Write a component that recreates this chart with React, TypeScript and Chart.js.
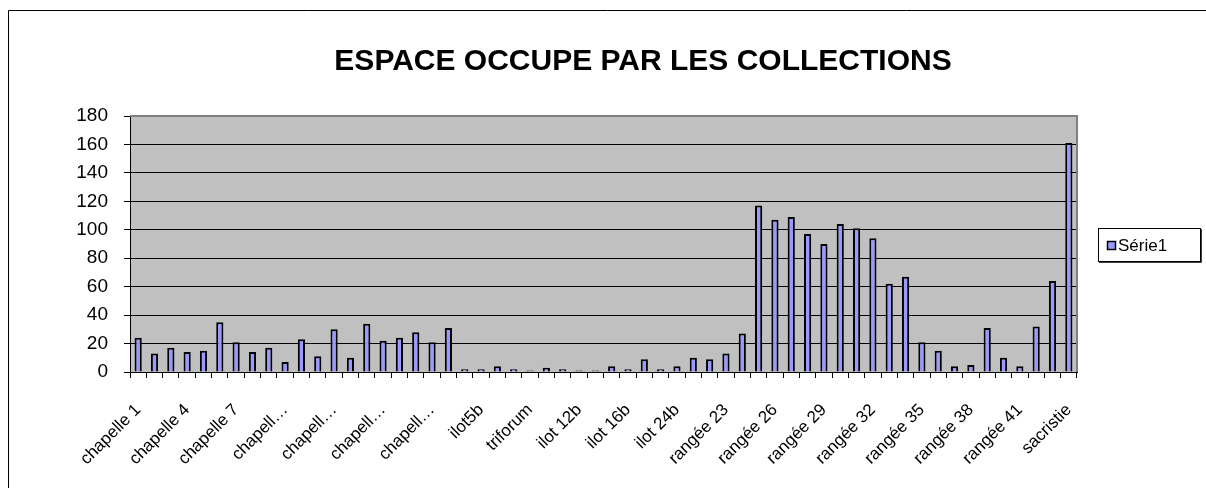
import React, { useEffect, useRef } from "react";
import { Chart, registerables } from "chart.js";

Chart.register(...registerables);

const TITLE = "ESPACE OCCUPE PAR LES COLLECTIONS";
const SERIES_NAME = "Série1";

const chapelles = [
  "chapelle 1", "chapelle 2", "chapelle 3", "chapelle 4", "chapelle 5",
  "chapelle 6", "chapelle 7", "chapelle 8", "chapelle 9", "chapelle 10",
  "chapelle 11", "chapelle 12", "chapelle 13", "chapelle 14", "chapelle 15",
  "chapelle 16", "chapelle 17", "chapelle 18", "chapelle 19", "chapelle 20",
];
const ilots = [
  "ilot5", "ilot5b", "ilot6", "ilot7", "triforum", "ilot 11", "ilot 12",
  "ilot 12b", "ilot 13", "ilot 16", "ilot 16b", "ilot 18", "ilot 24", "ilot 24b",
];
const rangees = [
  "rangée 21", "rangée 22", "rangée 23", "rangée 24", "rangée 25", "rangée 26",
  "rangée 27", "rangée 28", "rangée 29", "rangée 30", "rangée 31", "rangée 32",
  "rangée 33", "rangée 34", "rangée 35", "rangée 36", "rangée 37", "rangée 38",
  "rangée 39", "rangée 40", "rangée 41", "rangée 42", "rangée 43",
];
const others = ["sacristie"];

const categories = [...chapelles, ...ilots, ...rangees, ...others];

const chapelleValues = [24, 13, 17, 14, 15, 35, 21, 14, 17, 7, 23, 11, 30, 10, 34, 22, 24, 28, 21, 31];
const ilotValues = [2, 2, 4, 2, 1, 3, 2, 1, 1, 4, 2, 9, 2, 4];
const rangeeValues = [10, 9, 13, 27, 117, 107, 109, 97, 90, 104, 101, 94, 62, 67, 21, 15, 4, 5, 31, 10, 4, 32, 64];
const otherValues = [161];

const values = [...chapelleValues, ...ilotValues, ...rangeeValues, ...otherValues];

const Y_MIN = 0;
const Y_MAX = 180;
const Y_STEP = 20;

const FONT = '"Liberation Sans", Arial, sans-serif';

function shortLabel(s: string): string {
  return s.length > 10 ? s.slice(0, 7) + "…" : s;
}

export default function App() {
  const ref = useRef<HTMLCanvasElement>(null);

  useEffect(() => {
    const canvas = ref.current;
    if (!canvas) return;

    const framePlugin = {
      id: "excelFrame",
      beforeDraw(chart: any) {
        const { ctx, chartArea: a } = chart;
        ctx.save();
        ctx.fillStyle = "#ffffff";
        ctx.fillRect(0, 0, chart.width, chart.height);
        ctx.strokeStyle = "#000000";
        ctx.lineWidth = 1;
        ctx.beginPath();
        ctx.moveTo(8.5, chart.height);
        ctx.lineTo(8.5, 10.5);
        ctx.lineTo(chart.width, 10.5);
        ctx.stroke();
        ctx.fillStyle = "#C0C0C0";
        ctx.fillRect(a.left, a.top, a.right - a.left, a.bottom - a.top);
        ctx.restore();
      },
      afterDraw(chart: any) {
        const { ctx, chartArea: a } = chart;
        ctx.save();
        // plot border (top & right)
        ctx.strokeStyle = "#808080";
        ctx.lineWidth = 2;
        ctx.beginPath();
        ctx.moveTo(a.left, a.top);
        ctx.lineTo(a.right, a.top);
        ctx.lineTo(a.right, a.bottom);
        ctx.stroke();

        // title
        ctx.fillStyle = "#000";
        ctx.font = `bold 30px ${FONT}`;
        ctx.textAlign = "center";
        ctx.textBaseline = "middle";
        ctx.fillText(TITLE, 643, 62);

        // legend
        const ds = chart.data.datasets[0];
        ctx.lineWidth = 1;
        ctx.strokeStyle = "#000";
        ctx.strokeRect(1098.5, 228.5, 102, 33);
        ctx.strokeStyle = "#404040";
        ctx.beginPath();
        ctx.moveTo(1201.5, 229);
        ctx.lineTo(1201.5, 262.5);
        ctx.lineTo(1099, 262.5);
        ctx.stroke();
        ctx.fillStyle = ds.backgroundColor;
        ctx.fillRect(1107, 241, 9, 9);
        ctx.strokeStyle = "#000";
        ctx.lineWidth = 1.5;
        ctx.strokeRect(1107.5, 241.5, 8, 8);
        ctx.fillStyle = "#000";
        ctx.font = `17px ${FONT}`;
        ctx.textAlign = "left";
        ctx.textBaseline = "middle";
        ctx.fillText(ds.label, 1118, 246);
        ctx.restore();
      },
    };

    const chart = new Chart(canvas, {
      type: "bar",
      data: {
        labels: categories,
        datasets: [
          {
            label: SERIES_NAME,
            data: values,
            backgroundColor: "#9999FF",
            borderColor: "#000000",
            borderWidth: 2,
            barPercentage: 0.44,
            categoryPercentage: 1,
          },
        ],
      },
      options: {
        animation: false,
        responsive: false,
        events: [],
        layout: { padding: { top: 116, right: 129, left: 0, bottom: 0 } },
        plugins: {
          legend: { display: false },
          title: { display: false },
          tooltip: { enabled: false },
        },
        scales: {
          x: {
            grid: {
              offset: true,
              drawOnChartArea: false,
              drawTicks: true,
              color: "#000",
              tickLength: 6,
            },
            border: { color: "#000", width: 1 },
            ticks: {
              autoSkip: false,
              minRotation: 45,
              maxRotation: 45,
              color: "#000",
              font: { family: FONT, size: 17 },
              padding: 22,
              callback: (_v: any, i: number) => (i % 3 === 0 ? shortLabel(categories[i]) : ""),
            },
            afterFit: (s: any) => {
              s.height = 116;
            },
          },
          y: {
            min: Y_MIN,
            max: Y_MAX,
            ticks: {
              stepSize: Y_STEP,
              color: "#000",
              font: { family: FONT, size: 19 },
              padding: 16,
            },
            grid: { color: "#000", lineWidth: 1, tickLength: 6 },
            border: { color: "#000", width: 1 },
            afterFit: (s: any) => {
              s.width = 130;
            },
          },
        },
      },
      plugins: [framePlugin],
    });

    return () => chart.destroy();
  }, []);

  return (
    <div style={{ position: "fixed", left: 0, top: 0, width: 1206, height: 488, overflow: "hidden" }}>
      <canvas ref={ref} width={1206} height={488} style={{ display: "block" }} />
    </div>
  );
}
